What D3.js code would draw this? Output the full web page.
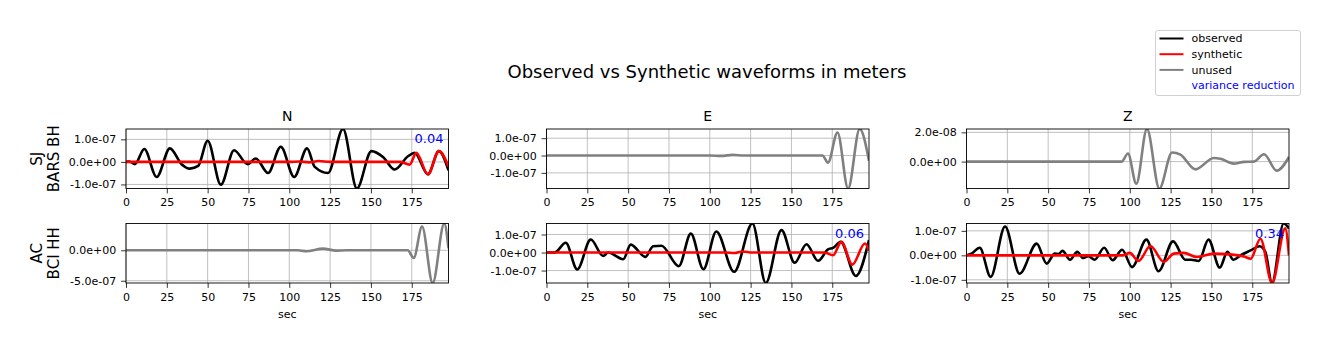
<!DOCTYPE html>
<html>
<head>
<meta charset="utf-8">
<script src="https://cdn.jsdelivr.net/npm/d3@7"></script>
<style>
  body { margin: 0; background: #fff; }
  text { font-family: "DejaVu Sans", sans-serif; }
</style>
</head>
<body>
<svg width="1329" height="351"></svg>
<script>
// [sec, amplitude] pairs, amplitude in the panel unit (1e-7 m, or 1e-8 m for SJ Z)
var sjNObs = [[0,0],[2,0.02],[5.5,-0.1],[11.2,0.57],[18.8,-0.67],[26.9,0.6],[34,-0.1],[39.1,-0.3],[44.2,-0.18],
  [50,0.94],[58.1,-1.01],[66.2,0.52],[74.4,-0.1],[79.5,0.15],[87,-0.49],[94.8,0.67],[103,-0.67],[110.9,0.6],
  [115.6,-0.22],[123.7,-0.49],[132.9,1.46],[141.4,-1.18],[150.3,0.48],[157.4,0.22],[164.5,-0.34],[172.7,0.25],
  [176.8,0.4],[184.9,-0.55],[191.6,0.48],[197.5,-0.37]];
var sjNSyn = [[0,0],[100,0],[106,0.02],[112,-0.02],[118,0.04],[125,0],[168,0],[173.7,-0.12],[177.8,0.4],
  [184.9,-0.55],[191.6,0.48],[197.5,-0.2]];
var sjEUnused = [[0,0],[100,0],[107,-0.02],[114,0.04],[121,0],[169,0],[172.4,-0.41],[178.2,1.33],[184.7,-1.9],
  [191.8,1.53],[197.5,-0.3]];
var sjZUnused = [[0,0],[95,0],[98.9,0.55],[104,-1.52],[110.5,2.23],[118.1,-1.84],[125.9,0.62],[131,0.48],
  [140.2,-0.53],[151.5,0.25],[155.5,0.2],[163.7,-0.14],[170,-0.02],[176,0],[182.2,0.5],[190,-0.62],[197.5,0.32]];
var acNUnused = [[0,0],[105,0],[110.4,-0.16],[120.6,0.27],[128.7,-0.05],[135,0],[172.5,0],[176.2,-1.25],
  [181.3,3.9],[187.8,-5.37],[194.9,4.4],[197.5,0.3]];
var acEObs = [[0,0],[5,0],[11.8,0.54],[18.8,-0.94],[27.1,0.72],[34.7,-0.19],[37.8,0],[47,-0.37],[51.6,0.44],
  [60.6,-0.24],[65.3,0.35],[70.4,0.38],[81,-0.76],[88.4,1.05],[96.1,-0.93],[104,1.17],[114.9,-1.07],[126.1,1.61],
  [134.3,-1.69],[143.9,1.24],[152,-0.57],[159.2,0.46],[166.3,-0.46],[172.4,0.17],[175.5,0.26],[180.2,0.59],
  [189.4,-1.3],[197.5,0.69]];
var acESyn = [[0,0],[110,0],[115,-0.03],[120,0.06],[126,0],[170,0],[175.5,-0.15],[180.6,0.59],[187.3,-0.67],
  [195,0.5],[197.5,0.1]];
var acZObs = [[0,0],[3,0.07],[8.1,0.31],[14.8,-0.88],[23.6,1.18],[32.5,-0.75],[43,0.48],[49.1,-0.34],[54,0.07],
  [56.3,0.05],[58.8,0.18],[63.4,-0.18],[67.8,0.14],[71.4,-0.11],[74.6,-0.04],[78.5,-0.18],[84.3,0.31],[89.5,-0.2],
  [95.3,0.23],[101.4,-0.48],[110.2,0.64],[117.6,-0.65],[126.5,0.57],[134,-0.18],[137.5,-0.18],[142.2,-0.23],
  [148.2,0.64],[155.1,-0.5],[159.8,0.14],[163.5,-0.18],[167.8,0],[174,0.2],[179.5,0.37],[183,0.14],[187.1,-1.13],
  [194.2,1.3],[197.5,1.1]];
var acZSyn = [[0,0],[96,0],[99.9,0.1],[105.4,-0.23],[112.6,0.38],[120.8,-0.27],[126.9,0.07],[133,0.1],
  [141.2,-0.07],[151.4,0.07],[161.7,0.04],[170,-0.05],[174,-0.14],[180,0.68],[187.1,-1.13],[195.2,1.1],[197.5,0]];

var components = ["N", "E", "Z"];
var stations = [["SJ", "BARS BH"], ["AC", "BCI HH"]];
var xTicks = [0, 25, 50, 75, 100, 125, 150, 175];
var xMax = 197.5;

var panels = [
  {row: 0, col: 0, unit: 1e-7, ticks: [-1e-7, 0, 1e-7], vr: "0.04",
   traces: [[sjNObs, "black"], [sjNSyn, "red"]]},
  {row: 0, col: 1, unit: 1e-7, ticks: [-1e-7, 0, 1e-7], vr: null,
   traces: [[sjEUnused, "gray"]]},
  {row: 0, col: 2, unit: 1e-8, ticks: [0, 2e-8], vr: null,
   traces: [[sjZUnused, "gray"]]},
  {row: 1, col: 0, unit: 1e-7, ticks: [-5e-7, 0], vr: null,
   traces: [[acNUnused, "gray"]]},
  {row: 1, col: 1, unit: 1e-7, ticks: [-1e-7, 0, 1e-7], vr: "0.06",
   traces: [[acEObs, "black"], [acESyn, "red"]]},
  {row: 1, col: 2, unit: 1e-7, ticks: [-1e-7, 0, 1e-7], vr: "0.34",
   traces: [[acZObs, "black"], [acZSyn, "red"]]}
];

var svg = d3.select("svg");
var panelLeft = [126, 546.5, 966.5], panelTop = [129, 223.5], pw = 322.5, ph = 59.5;

function sci(v) {
  return v.toExponential(1).replace(/e([+-])(\d+)$/, function(m, s, d) {
    return "e" + s + (d.length < 2 ? "0" + d : d);
  });
}

var x = d3.scaleLinear().domain([0, xMax]).range([0, pw]);

svg.append("text")
  .attr("x", 707).attr("y", 78)
  .attr("text-anchor", "middle")
  .attr("font-size", "18px")
  .text("Observed vs Synthetic waveforms in meters");

panels.forEach(function(p, i) {
  var g = svg.append("g")
    .attr("transform", "translate(" + panelLeft[p.col] + "," + panelTop[p.row] + ")");

  var all = [];
  p.traces.forEach(function(t) { t[0].forEach(function(d) { all.push(d[1] * p.unit); }); });
  var y = d3.scaleLinear().domain(d3.extent(all)).range([ph, 0]);

  // grid
  g.selectAll(".gx").data(xTicks).enter().append("line")
    .attr("x1", function(d) { return x(d); }).attr("x2", function(d) { return x(d); })
    .attr("y1", 0).attr("y2", ph)
    .attr("stroke", "#b0b0b0").attr("stroke-width", 0.8);
  g.selectAll(".gy").data(p.ticks).enter().append("line")
    .attr("x1", 0).attr("x2", pw)
    .attr("y1", function(d) { return y(d); }).attr("y2", function(d) { return y(d); })
    .attr("stroke", "#b0b0b0").attr("stroke-width", 0.8);

  g.append("clipPath").attr("id", "clip" + i)
    .append("rect").attr("width", pw).attr("height", ph);

  var line = d3.line()
    .x(function(d) { return x(d[0]); })
    .y(function(d) { return y(d[1] * p.unit); })
    .curve(d3.curveMonotoneX);

  p.traces.forEach(function(t) {
    g.append("path")
      .datum(t[0])
      .attr("clip-path", "url(#clip" + i + ")")
      .attr("d", line)
      .attr("fill", "none")
      .attr("stroke", t[1] === "gray" ? "#808080" : t[1] === "red" ? "#ff0000" : "#000")
      .attr("stroke-width", 2.6)
      .attr("stroke-linejoin", "round");
  });

  g.append("rect").attr("width", pw).attr("height", ph)
    .attr("fill", "none").attr("stroke", "#000").attr("stroke-width", 0.9);

  var ya = g.append("g")
    .call(d3.axisLeft(y).tickValues(p.ticks).tickFormat(sci).tickSize(4.9).tickPadding(4.9));
  var xa = g.append("g").attr("transform", "translate(0," + ph + ")")
    .call(d3.axisBottom(x).tickValues(xTicks).tickFormat(d3.format("d")).tickSize(4.9).tickPadding(4.9));
  [ya, xa].forEach(function(a) {
    a.select(".domain").remove();
    a.selectAll("line").attr("stroke", "#000").attr("stroke-width", 0.8);
    a.selectAll("text").attr("font-size", "11px").attr("fill", "#000")
      .style("font-family", "'DejaVu Sans', sans-serif");
  });

  if (p.row === 0) {
    g.append("text").attr("x", pw / 2).attr("y", -8)
      .attr("text-anchor", "middle").attr("font-size", "14px")
      .text(components[p.col]);
  }
  if (p.row === 1) {
    g.append("text").attr("x", pw / 2).attr("y", ph + 35)
      .attr("text-anchor", "middle").attr("font-size", "11px")
      .text("sec");
  }
  if (p.col === 0) {
    var cy = panelTop[p.row] + ph / 2;
    stations[p.row].forEach(function(s, k) {
      svg.append("text")
        .attr("transform", "translate(" + (37 + k * 16.5) + "," + cy + ") rotate(-90)")
        .attr("dy", "0.35em")
        .attr("text-anchor", "middle").attr("font-size", "15px")
        .text(s);
    });
  }
  if (p.vr) {
    g.append("text").attr("x", pw - 5).attr("y", 14)
      .attr("text-anchor", "end").attr("font-size", "13px")
      .attr("fill", "#0000ff").text(p.vr);
  }
});

// legend
var legendItems = [["observed", "#000"], ["synthetic", "#ff0000"], ["unused", "#808080"], ["variance reduction", null]];
var lg = svg.append("g").attr("transform", "translate(1155.5,30.5)");
lg.append("rect").attr("width", 145).attr("height", 65).attr("rx", 2.5)
  .attr("fill", "#fff").attr("stroke", "#cccccc").attr("stroke-width", 0.9);
legendItems.forEach(function(d, k) {
  var yy = 8 + k * 15.7;
  if (d[1]) {
    lg.append("line").attr("x1", 4).attr("x2", 28).attr("y1", yy).attr("y2", yy)
      .attr("stroke", d[1]).attr("stroke-width", 2);
  }
  lg.append("text").attr("x", 36).attr("y", yy).attr("dy", "0.35em")
    .attr("font-size", "11px").attr("fill", d[1] ? "#000" : "#0000ff")
    .text(d[0]);
});
</script>
</body>
</html>
